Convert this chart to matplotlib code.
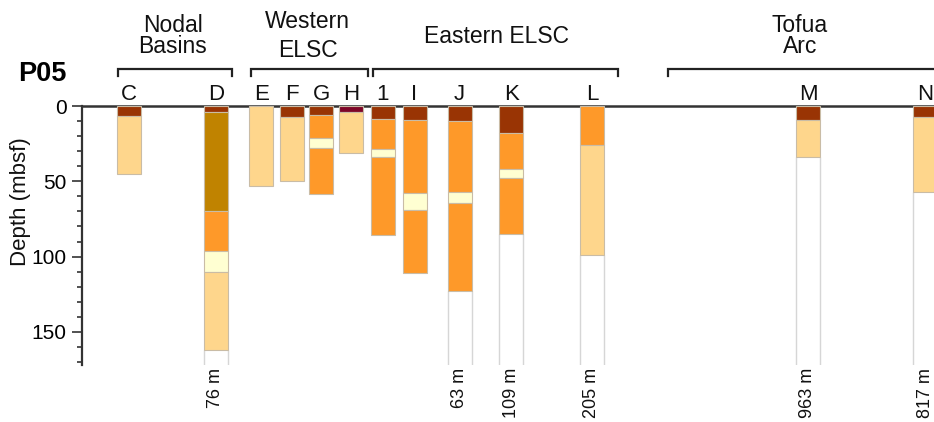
import matplotlib
matplotlib.use("Agg")
import matplotlib.pyplot as plt
import matplotlib.transforms as mtransforms
from matplotlib.ticker import MultipleLocator

plt.rcParams['font.family'] = ['Liberation Sans', 'DejaVu Sans']

# ---------------- data ----------------
sites = ['C', 'D', 'E', 'F', 'G', 'H', '1', 'I', 'J', 'K', 'L', 'M', 'N']

# layer bottoms (mbsf), top-down, for each site
layer_bottoms = {
    'C': [6.7, 45],
    'D': [3.8, 70, 96.5, 110.5, 162],
    'E': [53],
    'F': [7, 50],
    'G': [6, 21, 28, 58.7],
    'H': [3.8, 31],
    '1': [8.7, 28.7, 34, 85.6],
    'I': [9.1, 57.8, 69.3, 110.7],
    'J': [10, 57, 64.4, 123],
    'K': [17.8, 42, 47.8, 85],
    'L': [26.2, 99],
    'M': [9.3, 33.6],
    'N': [7.6, 57],
}
# unit code for each layer
layer_units = {
    'C': ['ox', 'lt'],
    'D': ['ox', 'au', 'or', 'pl', 'lt'],
    'E': ['lt'],
    'F': ['ox', 'lt'],
    'G': ['ox', 'or', 'pl', 'or'],
    'H': ['mr', 'lt'],
    '1': ['ox', 'or', 'pl', 'or'],
    'I': ['ox', 'or', 'pl', 'or'],
    'J': ['ox', 'or', 'pl', 'or'],
    'K': ['ox', 'or', 'pl', 'or'],
    'L': ['or', 'lt'],
    'M': ['ox', 'lt'],
    'N': ['ox', 'lt'],
}
# water depth labels
water_sites = ['D', 'J', 'K', 'L', 'M', 'N']
water_labels = ['76 m', '63 m', '109 m', '205 m', '963 m', '817 m']

group_lines = [['Nodal', 'Basins'], ['Western', 'ELSC'], ['Eastern ELSC'], ['Tofua', 'Arc']]

# ---------------- styles / layout ----------------
unit_colors = {'ox': '#993404', 'au': '#C08300', 'or': '#FE9929',
               'lt': '#FED68C', 'pl': '#FFFFD2', 'mr': '#7E0628'}
W, H = 934, 422
x_pos = [128.7, 216, 261.3, 292, 321, 351, 383, 414.5, 459.7, 511.3, 592, 808, 925]
col_w = 24
depth_max = 172
ax_left, ax_top, ax_bottom = 82, 106, 365

fig = plt.figure(figsize=(W / 100, H / 100), dpi=100)
ax = fig.add_axes([ax_left / W, 1 - ax_bottom / H, (W - ax_left) / W, (ax_bottom - ax_top) / H])
ax.set_xlim(ax_left, W)
ax.set_ylim(depth_max, 0)

xmap = dict(zip(sites, x_pos))
for s in sites:
    x = xmap[s]
    top = 0
    for b, u in zip(layer_bottoms[s], layer_units[s]):
        ax.bar(x, b - top, bottom=top, width=col_w, color=unit_colors[u],
               edgecolor='#c9bca6', linewidth=0.8, zorder=3)
        top = b
    if s in water_sites:
        ax.vlines([x - col_w / 2, x + col_w / 2], top, depth_max,
                  colors='#d6d6d6', linewidth=1.0, zorder=2)

# spines / ticks
for sp in ['right', 'bottom']:
    ax.spines[sp].set_visible(False)
ax.spines['top'].set_color('#333333')
ax.spines['top'].set_linewidth(1.8)
ax.spines['left'].set_color('#333333')
ax.spines['left'].set_linewidth(1.6)
ax.set_xticks([])
ax.yaxis.set_major_locator(MultipleLocator(50))
ax.yaxis.set_minor_locator(MultipleLocator(10))
ax.tick_params(axis='y', which='major', length=7.5, width=1.2, color='#333333',
               labelsize=15, pad=3.5)
ax.tick_params(axis='y', which='minor', length=3.8, width=1.2, color='#333333')

# site letters
bl = mtransforms.blended_transform_factory(ax.transData, ax.transAxes)
for s in sites:
    ax.text(xmap[s], 1 + 6 / (ax_bottom - ax_top), s, transform=bl, ha='center',
            va='baseline', fontsize=16, color='#111111')

# water depth labels
for s, lab in zip(water_sites, water_labels):
    ax.text(xmap[s], -3 / (ax_bottom - ax_top), lab, transform=bl, ha='center',
            va='top', rotation=90, fontsize=13, color='#111111')

# overlay in pixel coordinates for brackets & group labels
ov = fig.add_axes([0, 0, 1, 1], zorder=5)
ov.set_xlim(0, W)
ov.set_ylim(H, 0)
ov.axis('off')
ov.patch.set_alpha(0)

bracket_spans = [(118.3, 231.7), (250.7, 368.3), (373.3, 618.3), (668.3, 960)]
for x0, x1 in bracket_spans:
    ov.plot([x0, x0, x1, x1], [76, 68.5, 68.5, 76], color='#222222', lw=1.6,
            solid_joinstyle='miter', clip_on=False)

group_x = [173, 307.5, 496.5, 800]
group_baselines = [[31.7, 52.7], [28.3, 57.3], [42.7], [32.3, 53.3]]
for lines, gx, bys in zip(group_lines, group_x, group_baselines):
    for t, by in zip(lines, bys):
        ov.text(gx, by, t, ha='center', va='baseline', fontsize=16.5, color='#111111')

ov.text(18, 81, 'P05', ha='left', va='baseline', fontsize=19.5, fontweight='bold')
ov.text(21, 201.5, 'Depth (mbsf)', ha='center', va='center', rotation=90,
        fontsize=16, color='#111111')

fig.savefig('out.png', dpi=100)
